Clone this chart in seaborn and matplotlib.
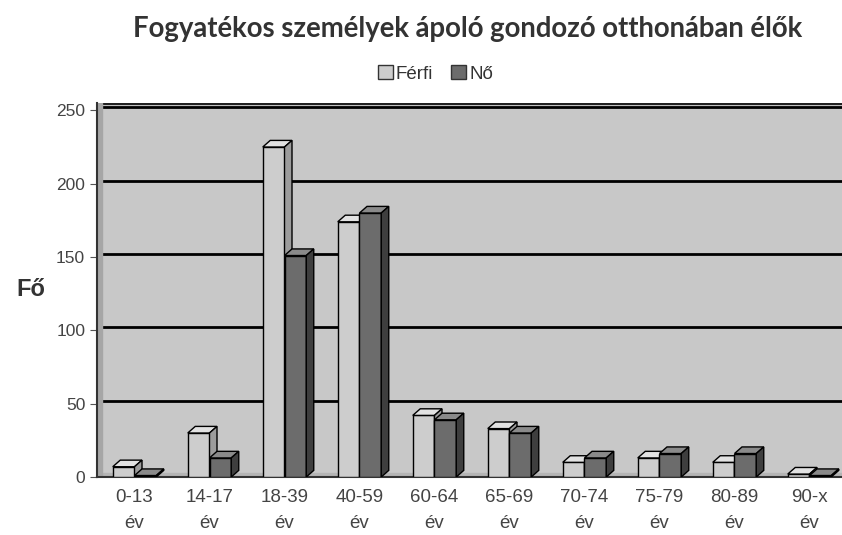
import pandas as pd
import numpy as np
import matplotlib.pyplot as plt
import seaborn as sns
from matplotlib.patches import Polygon, Patch

korcsoport = ['0-13\név', '14-17\név', '18-39\név', '40-59\név', '60-64\név',
              '65-69\név', '70-74\név', '75-79\név', '80-89\név', '90-x\név']
ferfi = [7, 30, 225, 174, 42, 33, 10, 13, 10, 2]
no = [1, 13, 151, 180, 39, 30, 13, 16, 16, 1]
nemek = ['Férfi', 'Nő']
yticks = [0, 50, 100, 150, 200, 250]

df = pd.DataFrame({'korcsoport': korcsoport, 'Férfi': ferfi, 'Nő': no})
df = df.melt(id_vars='korcsoport', var_name='nem', value_name='fo')

front = {'Férfi': '#cdcdcd', 'Nő': '#6c6c6c'}
top_c = {'Férfi': '#e2e2e2', 'Nő': '#8a8a8a'}
side_c = {'Férfi': '#9c9c9c', 'Nő': '#3e3e3e'}

sns.set_style('white')
plt.rcParams['font.family'] = ['Liberation Sans', 'DejaVu Sans']

fig = plt.figure(figsize=(8.42, 5.35), dpi=100)
ax = fig.add_axes([97 / 842, 58 / 535, 750 / 842, 374 / 535])
ax.set_facecolor('#c8c8c8')

sns.barplot(data=df, x='korcsoport', y='fo', hue='nem', hue_order=nemek,
            palette=front, width=0.58, edgecolor='black', linewidth=1.0,
            legend=False, ax=ax, zorder=3)

# 3D look: top and side faces computed from the drawn bars
dx, dy = 0.1, 4.5
for k, (nem, cont) in enumerate(zip(nemek, ax.containers)):
    for bar in cont:
        x0, w, h = bar.get_x(), bar.get_width(), bar.get_height()
        bar.set_zorder(3 + 2 * k)
        top = Polygon([(x0, h), (x0 + dx, h + dy), (x0 + w + dx, h + dy), (x0 + w, h)],
                      closed=True, fc=top_c[nem], ec='black', lw=1.0, zorder=3 + 2 * k)
        side = Polygon([(x0 + w, 0), (x0 + w + dx, dy), (x0 + w + dx, h + dy), (x0 + w, h)],
                       closed=True, fc=side_c[nem], ec='black', lw=1.0, zorder=3 + 2 * k)
        ax.add_patch(top)
        ax.add_patch(side)

ax.set_ylim(0, 255)
ax.set_xlim(-0.5, len(korcsoport) - 0.5)
ax.set_yticks(yticks)
for v in yticks[1:]:
    ax.axhline(v + 2, color='black', lw=2.0, zorder=1)
ax.axhline(254, color='#222222', lw=1.5, zorder=1)
# floor band and left wall
ax.axhspan(0, 2.5, color='#b4b4b4', zorder=1.5)
ax.axvspan(-0.5, -0.44, color='#a6a6a6', zorder=1.5)

ax.set_xticks(np.arange(len(korcsoport)) - 0.5, minor=True)
ax.set_xticks(np.arange(len(korcsoport)))
ax.set_xticklabels(korcsoport, linespacing=1.65)
ax.tick_params(axis='x', which='minor', length=5, color='#555555', direction='out')
ax.tick_params(axis='x', which='major', length=0, labelsize=13.5, labelcolor='#444444', pad=9)
ax.tick_params(axis='y', length=5, color='#555555', labelsize=12.5, labelcolor='#444444', left=True)
ax.set_xlabel('')
ax.set_ylabel('Fő', rotation=0, fontsize=17, fontweight='bold', color='#333333',
              labelpad=18, va='center')
for s in ['left', 'bottom']:
    ax.spines[s].set_color('#333333')
    ax.spines[s].set_linewidth(1.5)
ax.spines['top'].set_visible(False)
ax.spines['right'].set_visible(False)

fig.text(0.555, 0.945, 'Fogyatékos személyek ápoló gondozó otthonában élők',
         ha='center', va='center', fontsize=19.8, fontweight='bold', color='#333333',
         family=['Lato', 'DejaVu Sans'])
handles = [Patch(fc=front[n], ec='#333333', lw=1.0, label=n) for n in nemek]
fig.legend(handles=handles, loc='center', bbox_to_anchor=(0.517, 0.862), ncol=2,
           frameon=False, fontsize=13.5, handlelength=0.8, handleheight=0.8,
           handletextpad=0.15, columnspacing=1.0, labelcolor='#333333')

fig.savefig('out.png', dpi=100, facecolor='white')
